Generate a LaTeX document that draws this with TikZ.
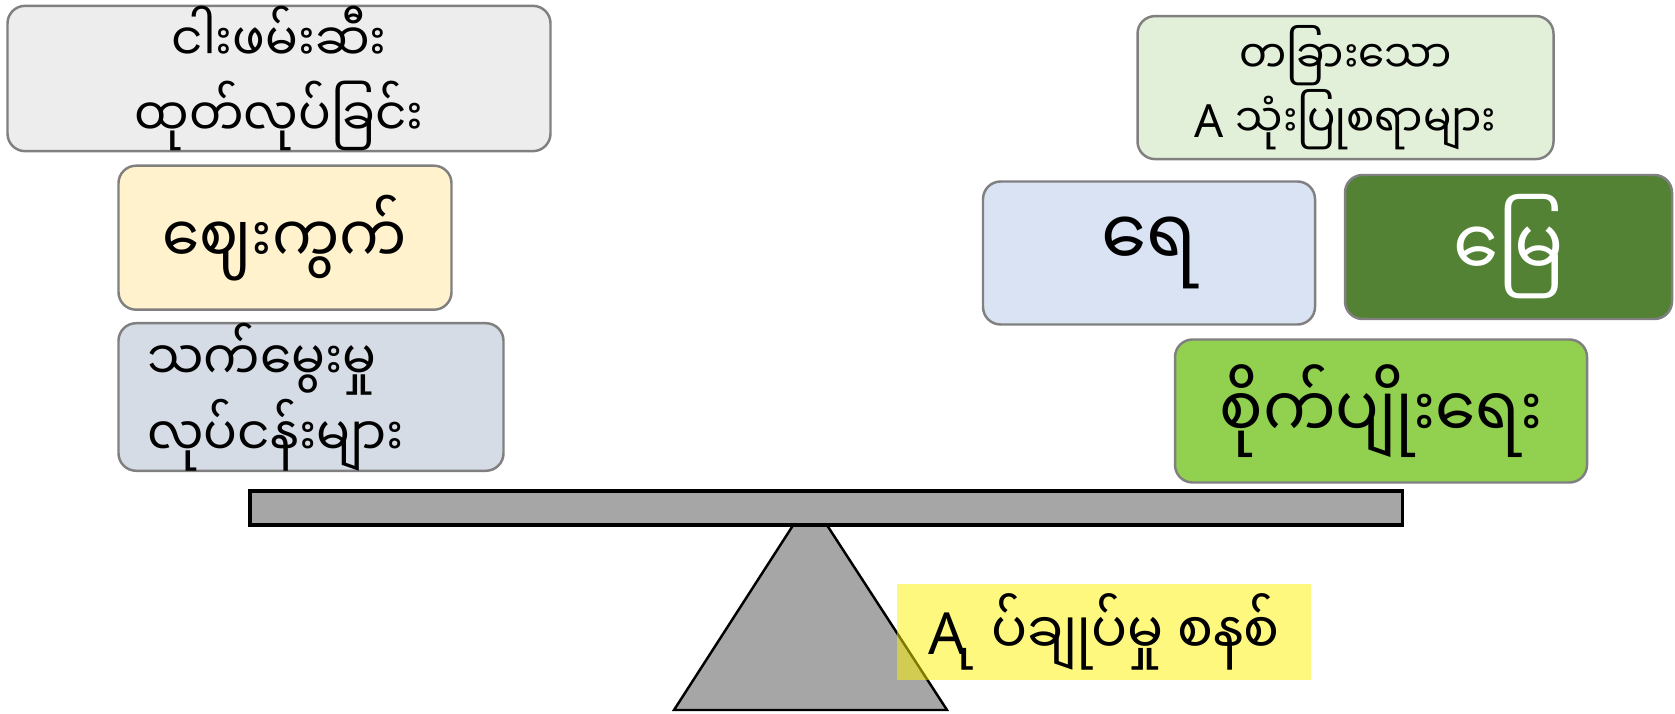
\documentclass[tikz,border=0pt]{standalone}
\usepackage{fontspec}
\setmainfont{Noto Sans}
\newfontfamily\mym[Script=Myanmar, FakeStretch=0.92]{Noto Sans Myanmar UI}
\definecolor{boxline}{HTML}{808080}
\definecolor{cgrey}{HTML}{EDEDED}
\definecolor{cyel}{HTML}{FFF2CC}
\definecolor{cslate}{HTML}{D6DCE5}
\definecolor{cmint}{HTML}{E2F0D9}
\definecolor{csky}{HTML}{DAE3F3}
\definecolor{cforest}{HTML}{548235}
\definecolor{clime}{HTML}{92D050}
\definecolor{cbeam}{HTML}{A6A6A6}
\newcommand{\lonevowel}{\XeTeXglyph\XeTeXcharglyph"102F\relax}
\begin{document}
\begin{tikzpicture}
\tikzstyle{b}=[draw=boxline, line width=0.7pt, rounded corners=5pt, minimum height=1.44cm, inner sep=0pt, align=center];
\tikzstyle{tag}=[fill=yellow, fill opacity=0.5, text opacity=1, minimum width=4.14cm, minimum height=0.96cm, inner sep=0pt];
\useasboundingbox (0,0) rectangle (16.75,7.13);
\node [b, fill=cgrey, minimum width=5.43cm, font=\mym\fontsize{15}{21.5}\selectfont] (b1) at (2.79,6.345) {ငါးဖမ်းဆီး\\ထုတ်လုပ်ခြင်း};
\node [b, fill=cyel, minimum width=3.33cm, font=\mym\fontsize{18.5}{22}\selectfont] (b2) at (2.85,4.753) {ဈေးကွက်};
\node [b, fill=cslate, text width=3.27cm, inner xsep=0.29cm, align=left, font=\mym\fontsize{15.5}{17}\selectfont] (b3) at (3.11,3.16) {သက်မွေးမှု\\လုပ်ငန်းများ};
\node [b, fill=cmint, minimum width=4.16cm, minimum height=1.43cm, font=\fontsize{13}{15}\selectfont] (b4) at (13.455,6.254) {{\mym တခြားသော}\\A {\mym သုံးပြုစရာများ}};
\node [b, fill=csky, minimum width=3.32cm, minimum height=1.43cm, font=\mym\fontsize{22.5}{26}\selectfont] (b5) at (11.49,4.60) {ရေ};
\node [b, fill=cforest, text=white, minimum width=3.27cm, font=\mym\fontsize{22.5}{26}\selectfont] (b6) at (15.085,4.66) {မြေ};
\node [b, fill=clime, minimum width=4.12cm, minimum height=1.43cm, font=\mym\fontsize{20}{24}\selectfont] (b7) at (13.81,3.02) {စိုက်ပျိုးရေး};
\draw [fill=cbeam, line width=0.7pt] (6.74,0.03) -- (8.10,2.14) -- (9.47,0.03) -- cycle;
\draw [fill=cbeam, line width=0.9pt] (2.50,1.88) rectangle (14.026,2.22);
\node [tag, font=\fontsize{16.5}{20}\selectfont] (t1) at (11.04,0.81) {A{\mym\kern0.28em\lonevowel\kern0.18em ပ်ချုပ်မှု စနစ်}};
\end{tikzpicture}
\end{document}
